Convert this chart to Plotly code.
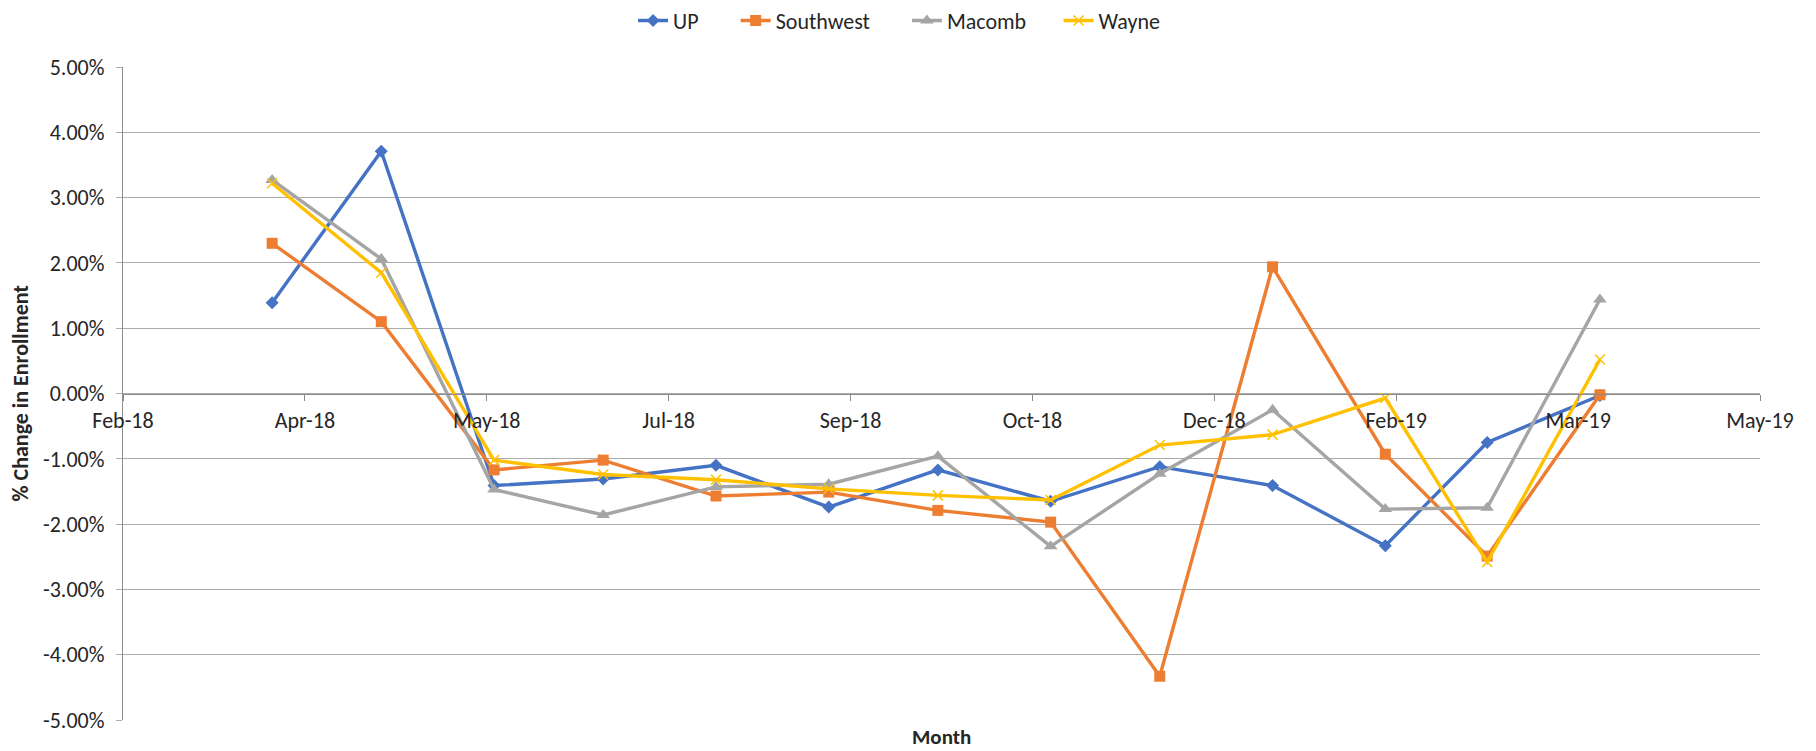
import numpy as np
import pandas as pd
import plotly.graph_objects as go

# ---- data (values in % change) ----
months = ["2018-04-01", "2018-05-01", "2018-06-01", "2018-07-01", "2018-08-01",
          "2018-09-01", "2018-10-01", "2018-11-01", "2018-12-01", "2019-01-01",
          "2019-02-01", "2019-03-01", "2019-04-01"]
up = [1.39, 3.71, -1.41, -1.31, -1.10, -1.74, -1.17, -1.65, -1.12, -1.41, -2.33, -0.75, -0.03]
southwest = [2.30, 1.10, -1.17, -1.02, -1.57, -1.51, -1.79, -1.97, -4.33, 1.94, -0.93, -2.49, -0.02]
macomb = [3.27, 2.06, -1.47, -1.86, -1.43, -1.39, -0.96, -2.34, -1.23, -0.25, -1.77, -1.75, 1.44]
wayne = [3.22, 1.85, -1.02, -1.24, -1.32, -1.46, -1.56, -1.63, -0.79, -0.63, -0.07, -2.58, 0.52]

x_tick_labels = ["Feb-18", "Apr-18", "May-18", "Jul-18", "Sep-18", "Oct-18",
                 "Dec-18", "Feb-19", "Mar-19", "May-19"]
y_tick_values = [-5, -4, -3, -2, -1, 0, 1, 2, 3, 4, 5]
y_tick_labels = ["-5.00%", "-4.00%", "-3.00%", "-2.00%", "-1.00%", "0.00%",
                 "1.00%", "2.00%", "3.00%", "4.00%", "5.00%"]

FONT = "Calibri, Carlito, Lato, sans-serif"
TXT = "#262626"
GRID = "#ABABAB"

axis_start = pd.Timestamp("2018-02-19")
tick_dates = pd.date_range(axis_start, periods=len(x_tick_labels), freq="50D")

# (name, values, colour, marker, legend id, legend x in container fraction)
series = [
    ("UP", up, "#4472C4", dict(symbol="diamond", size=10), "legend", 0.3442),
    ("Southwest", southwest, "#ED7D31", dict(symbol="square", size=11), "legend2", 0.4007),
    ("Macomb", macomb, "#A5A5A5", dict(symbol="triangle-up", size=12), "legend3", 0.4950),
    ("Wayne", wayne, "#FFC000",
     dict(symbol="x-thin", size=10, line=dict(width=1.5, color="#FFC000")), "legend4", 0.5785),
]

fig = go.Figure()
legend_layouts = {}
for name, vals, color, mk, leg, lx in series:
    fig.add_trace(go.Scatter(
        x=pd.to_datetime(months), y=np.array(vals) / 100.0,
        mode="lines+markers", name=name, legend=leg,
        line=dict(color=color, width=3.4),
        marker=dict(color=color, **mk),
    ))
    legend_layouts[leg] = dict(
        orientation="h", xref="container", yref="paper",
        x=lx, xanchor="left", y=1.071, yanchor="middle",
        font=dict(size=22, color=TXT, family=FONT),
        itemwidth=30, bgcolor="rgba(0,0,0,0)",
    )

# page has an 8px body margin: offsets compensate so the plot area lands
# at page x 123..1760, y 67..720
fig.update_layout(
    width=1816, height=751,
    paper_bgcolor="white", plot_bgcolor="white",
    margin=dict(l=115, r=64, t=59, b=39, autoexpand=False),
    font=dict(family=FONT, color=TXT, size=21),
    showlegend=True,
    xaxis=dict(
        type="date", automargin=False,
        range=[axis_start, tick_dates[-1]],
        tickmode="array", tickvals=tick_dates, ticktext=x_tick_labels,
        anchor="free", position=0.5,
        showline=True, linecolor="#8C8C8C", linewidth=1.3,
        ticks="outside", ticklen=6, tickcolor="#8C8C8C", tickwidth=1.3,
        showgrid=False, zeroline=False,
        tickfont=dict(size=22, color=TXT, family=FONT),
        ticklabelstandoff=1,
    ),
    yaxis=dict(
        automargin=False,
        range=[-0.05, 0.05],
        tickmode="array", tickvals=np.array(y_tick_values) / 100.0, ticktext=y_tick_labels,
        showgrid=True, gridcolor=GRID, gridwidth=1.3,
        showline=True, linecolor="#8C8C8C", linewidth=1.3,
        ticks="outside", ticklen=6, tickcolor=GRID, tickwidth=1.3,
        zeroline=False,
        tickfont=dict(size=22, color=TXT, family=FONT),
        ticklabelstandoff=7,
    ),
    annotations=[
        dict(text="<b>Month</b>", xref="paper", yref="paper", x=0.5, y=0,
             yshift=-17, showarrow=False, yanchor="middle",
             font=dict(size=21, color=TXT, family=FONT)),
        dict(text="<b>% Change in Enrollment</b>", xref="paper", yref="paper",
             x=0, y=0.5, xshift=-103, textangle=-90, showarrow=False,
             xanchor="center", yanchor="middle",
             font=dict(size=22, color=TXT, family=FONT)),
    ],
    **legend_layouts,
)

fig.write_html("out.html")
